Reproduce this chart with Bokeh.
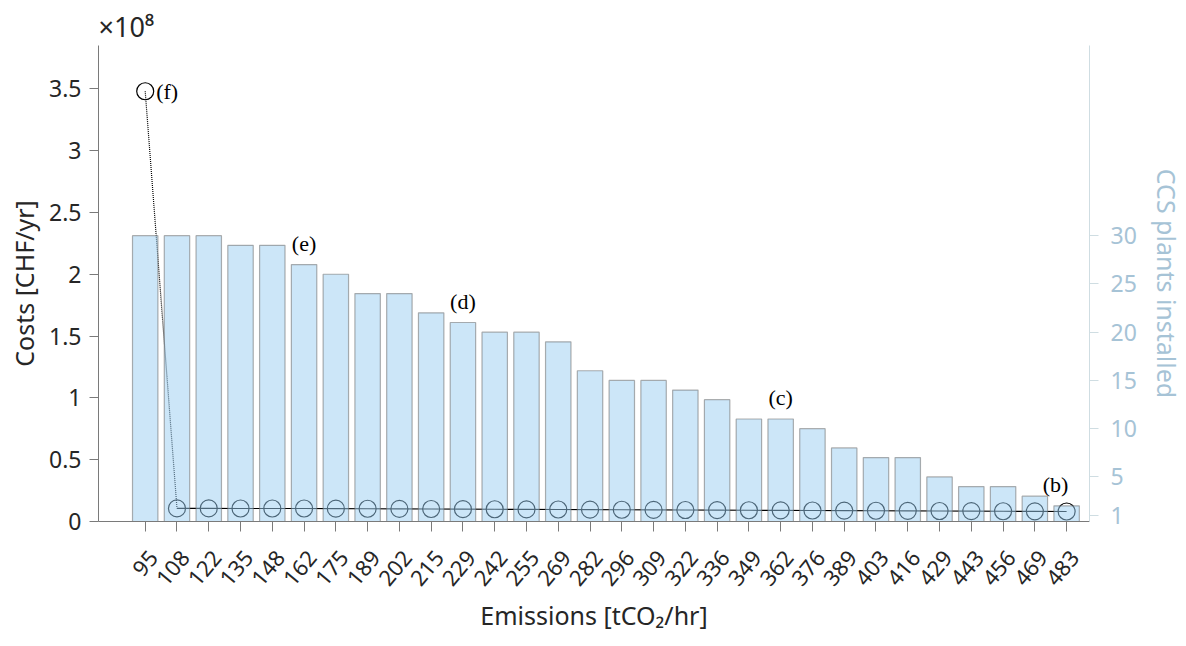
import math
from bokeh.plotting import figure
from bokeh.models import Range1d, LinearAxis, FixedTicker, Label, Title
from bokeh.embed import file_html
from bokeh.resources import INLINE

# ---------------- data ----------------
emissions = [95, 108, 122, 135, 148, 162, 175, 189, 202, 215, 229, 242, 255, 269, 282,
             296, 309, 322, 336, 349, 362, 376, 389, 403, 416, 429, 443, 456, 469, 483]
ccs_plants = [30, 30, 30, 29, 29, 27, 26, 24, 24, 22, 21, 20, 20, 19, 16,
              15, 15, 14, 13, 11, 11, 10, 8, 7, 7, 5, 4, 4, 3, 2]
costs = [3.48e8, 1.06e7, 1.06e7, 1.05e7, 1.05e7, 1.05e7, 1.04e7, 1.03e7, 1.02e7, 1.01e7,
         1.00e7, 0.99e7, 0.98e7, 0.97e7, 0.96e7, 0.95e7, 0.94e7, 0.93e7, 0.92e7, 0.91e7,
         0.90e7, 0.89e7, 0.88e7, 0.87e7, 0.86e7, 0.85e7, 0.84e7, 0.83e7, 0.82e7, 0.81e7]
cost_ticks = [0, 0.5e8, 1e8, 1.5e8, 2e8, 2.5e8, 3e8, 3.5e8]
cost_tick_labels = ["0", "0.5", "1", "1.5", "2", "2.5", "3", "3.5"]
ccs_ticks = [1, 5, 10, 15, 20, 25, 30]
annot_text = ["(f)", "(e)", "(d)", "(c)", "(b)"]
annot_at = [95, 162, 229, 362, 483]

idx = list(range(1, len(emissions) + 1))

FONT = "Noto Sans"
DARK = "#262626"
p = figure(width=1186, height=646, output_backend="svg", toolbar_location=None,
           x_range=Range1d(-0.47, 30.72), y_range=Range1d(0, 3.85e8),
           min_border_left=98, min_border_right=94, min_border_top=45, min_border_bottom=125)
p.extra_y_ranges = {"ccs": Range1d(0.38, 49.7)}
p.outline_line_color = None
p.xgrid.visible = False
p.ygrid.visible = False
p.background_fill_color = "white"

# exponent title above the left axis
p.add_layout(Title(text="×10⁸", align="left", text_font=FONT, text_font_size="27px",
                   text_font_style="normal", text_color=DARK, offset=0, standoff=2), "above")

# cost line (drawn first, bars overlay it)
p.line(idx[:2], costs[:2], line_color="black", line_width=1.2, line_dash="1 1")
p.line(idx[1:], costs[1:], line_color="black", line_width=1.2)
p.scatter(idx, costs, marker="circle", size=17, fill_color=None, line_color="black", line_width=1.2)

# bars
p.vbar(x=idx, top=ccs_plants, bottom=0, width=0.8, y_range_name="ccs",
       fill_color="#99cdf2", fill_alpha=0.5, line_color="#707070", line_alpha=0.55, line_width=1.2)

# x axis: line and ticks only
xa = p.xaxis[0]
xa.ticker = FixedTicker(ticks=idx)
xa.major_label_overrides = {i: "" for i in idx}
xa.major_label_text_font_size = "1px"
xa.major_label_standoff = 0
xa.axis_line_color = "#7a7a7a"
xa.major_tick_line_color = "#7a7a7a"
xa.major_tick_in = 0
xa.major_tick_out = 10
xa.minor_tick_line_color = None

# x axis: rotated labels (slightly shifted like the original layout) + title
label_pos = [i + 0.25 for i in idx]
xb = LinearAxis(ticker=FixedTicker(ticks=label_pos))
xb.major_label_overrides = {t: str(e) for t, e in zip(label_pos, emissions)}
xb.major_label_orientation = math.radians(50)
xb.major_label_text_font = FONT
xb.major_label_text_font_size = "22px"
xb.major_label_text_color = DARK
xb.major_label_standoff = 16
xb.axis_line_color = None
xb.major_tick_line_color = None
xb.minor_tick_line_color = None
xb.axis_label = "Emissions [tCO₂/hr]"
xb.axis_label_text_font = FONT
xb.axis_label_text_font_size = "25px"
xb.axis_label_text_font_style = "normal"
xb.axis_label_text_color = DARK
xb.axis_label_standoff = 2
p.add_layout(xb, "below")

ya = p.yaxis[0]
ya.ticker = FixedTicker(ticks=cost_ticks)
ya.major_label_overrides = {t: l for t, l in zip(cost_ticks, cost_tick_labels)}
ya.major_label_text_font = FONT
ya.major_label_text_font_size = "23px"
ya.major_label_text_color = DARK
ya.axis_label = "Costs [CHF/yr]"
ya.axis_label_text_font = FONT
ya.axis_label_text_font_size = "25px"
ya.axis_label_text_font_style = "normal"
ya.axis_label_text_color = DARK
ya.axis_line_color = "#7a7a7a"
ya.major_tick_line_color = "#7a7a7a"
ya.major_tick_in = 0
ya.major_tick_out = 9
ya.minor_tick_line_color = None
ya.major_label_standoff = 8
ya.axis_label_standoff = 5

ra = LinearAxis(y_range_name="ccs")
ra.ticker = FixedTicker(ticks=ccs_ticks)
ra.major_label_text_font = FONT
ra.major_label_text_font_size = "23px"
ra.major_label_text_color = "#a6c3d6"
ra.axis_label = "CCS plants installed"
ra.axis_label_text_font = FONT
ra.axis_label_text_font_size = "25px"
ra.axis_label_text_font_style = "normal"
ra.axis_label_text_color = "#a6c3d6"
ra.axis_line_color = "#cfdde2"
ra.major_tick_line_color = "#cfdde2"
ra.major_tick_in = 0
ra.major_tick_out = 9
ra.minor_tick_line_color = None
ra.major_label_standoff = 12
ra.axis_label_standoff = 10
p.add_layout(ra, "right")

# annotations
for t, e in zip(annot_text, annot_at):
    i = emissions.index(e)
    if t == "(f)":
        p.add_layout(Label(x=idx[i], y=costs[i], text=t, x_offset=11,
                           text_font="Liberation Serif", text_font_size="22px", text_color="black",
                           text_align="left", text_baseline="middle"))
    else:
        xo = -11 if i == len(idx) - 1 else 0
        p.add_layout(Label(x=idx[i], y=ccs_plants[i] + 2.2, y_range_name="ccs", text=t, x_offset=xo,
                           text_font="Liberation Serif", text_font_size="22px", text_color="black",
                           text_align="center", text_baseline="middle"))

open("out.html", "w").write(file_html(p, INLINE))
